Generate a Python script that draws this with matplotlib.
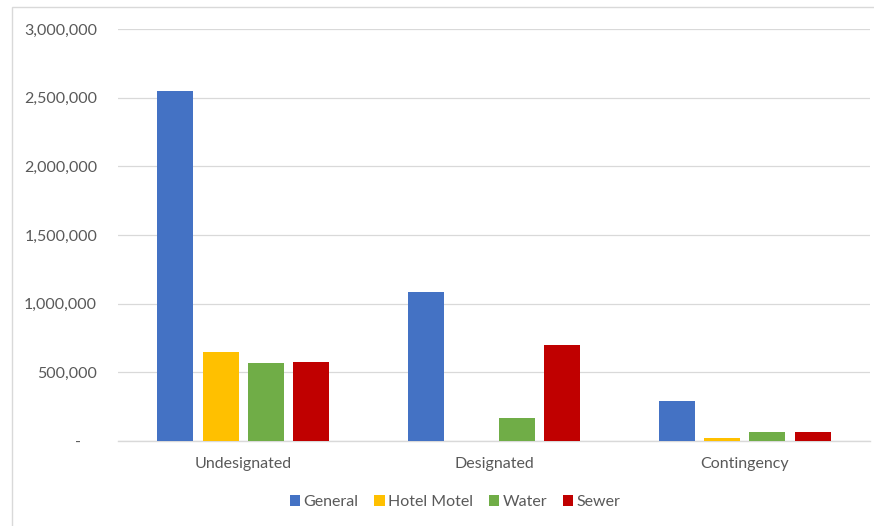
import matplotlib.pyplot as plt
import numpy as np
from matplotlib.patches import Rectangle
from matplotlib.ticker import FuncFormatter

# fund balances by category
categories = ["Undesignated", "Designated", "Contingency"]
general = [2545000, 1085000, 290000]
hotel_motel = [649000, 0, 22000]
water = [565000, 168000, 65000]
sewer = [573000, 700000, 65000]

series = [("General", general, "#4472C4"),
          ("Hotel Motel", hotel_motel, "#FFC000"),
          ("Water", water, "#70AD47"),
          ("Sewer", sewer, "#C00000")]

plt.rcParams['font.family'] = ['Lato', 'DejaVu Sans']
fs = 11.5

fig = plt.figure(figsize=(8.74, 5.26), dpi=100)
ax = fig.add_axes([118 / 874, 1 - 441 / 526, (870 - 118) / 874, (441 - 29) / 526])

# outer chart border
fig.patches.append(Rectangle((12 / 874, -0.05), 1.0, 1 - 7 / 526 + 0.05,
                             transform=fig.transFigure, fill=False,
                             edgecolor="#D9D9D9", linewidth=1.0))

x = np.arange(len(categories))
step = 0.181
width = 0.1436
for i, (name, vals, color) in enumerate(series):
    ax.bar(x + (i - 1.5) * step, vals, width, color=color, label=name, zorder=3)

ax.set_xlim(-0.5, 2.5)
ax.set_ylim(0, 3000000)
ax.set_yticks(np.arange(0, 3000001, 500000))
ax.yaxis.set_major_formatter(FuncFormatter(lambda v, p: "-    " if v == 0 else f"{int(v):,}"))
ax.grid(axis="y", color="#D9D9D9", linewidth=0.9, zorder=0)
ax.set_xticks(x)
ax.set_xticklabels(categories)
for s in ["top", "right", "left"]:
    ax.spines[s].set_visible(False)
ax.spines["bottom"].set_color("#D9D9D9")
ax.spines["bottom"].set_linewidth(1.0)
ax.tick_params(axis="both", length=0, labelsize=fs, labelcolor="#595959")
ax.tick_params(axis="y", pad=15)
ax.tick_params(axis="x", pad=11.5)

fig.legend(loc="center", bbox_to_anchor=(455 / 874, 1 - 502 / 526), ncol=4,
           frameon=False, fontsize=fs, handlelength=0.65, handleheight=0.65,
           handletextpad=0.2, columnspacing=1.0, labelcolor="#595959")

fig.savefig("out.png", dpi=100)
